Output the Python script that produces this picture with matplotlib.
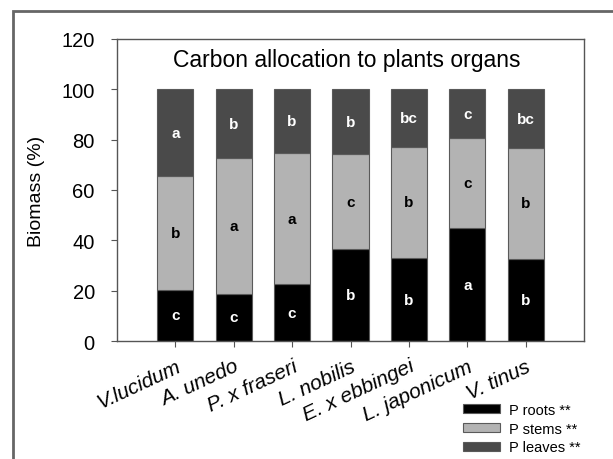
import matplotlib
matplotlib.use("Agg")
import matplotlib.pyplot as plt
from matplotlib.patches import Patch, Rectangle
import numpy as np

plt.rcParams['font.family'] = ['Liberation Sans', 'DejaVu Sans']

species = ["V.lucidum", "A. unedo", "P. x fraseri", "L. nobilis", "E. x ebbingei", "L. japonicum", "V. tinus"]
roots = [20.4, 18.7, 22.6, 36.6, 32.9, 44.8, 32.6]
stems_top = [65.4, 72.6, 74.7, 74.2, 77.2, 80.5, 76.8]
stems = [s - r for s, r in zip(stems_top, roots)]
leaves = [100 - s for s in stems_top]
roots_letters = ["c", "c", "c", "b", "b", "a", "b"]
stems_letters = ["b", "a", "a", "c", "b", "c", "b"]
leaves_letters = ["a", "b", "b", "b", "bc", "c", "bc"]
yticks = [0, 20, 40, 60, 80, 100, 120]
legend_labels = ["P roots **", "P stems **", "P leaves **"]

c_roots, c_stems, c_leaves = "#000000", "#b3b3b3", "#4a4a4a"

fig = plt.figure(figsize=(6.13, 4.6), dpi=100)
ax = fig.add_axes([117/613, 1-342/460, 467/613, 302/460])

x = np.arange(len(species))
w = 0.62
ec = "#5a5a5a"
ax.bar(x, roots, w, color=c_roots, edgecolor=ec, linewidth=0.8)
ax.bar(x, stems, w, bottom=roots, color=c_stems, edgecolor=ec, linewidth=0.8)
ax.bar(x, leaves, w, bottom=stems_top, color=c_leaves, edgecolor=ec, linewidth=0.8)

for i in range(len(species)):
    ax.text(x[i], roots[i]/2, roots_letters[i], ha='center', va='center', color='white', fontweight='bold', fontsize=11)
    ax.text(x[i], roots[i] + stems[i]/2, stems_letters[i], ha='center', va='center', color='black', fontweight='bold', fontsize=11)
    ax.text(x[i], stems_top[i] + leaves[i]/2, leaves_letters[i], ha='center', va='center', color='white', fontweight='bold', fontsize=11)

ax.set_xlim(-1.0, 7.0)
ax.set_ylim(0, 120)
ax.set_yticks(yticks)
ax.set_yticklabels([str(t) for t in yticks], fontsize=14.5)
ax.set_xticks(x)
ax.set_xticklabels(species, rotation=25, ha='right', rotation_mode='anchor', fontsize=15, style='italic')
ax.tick_params(axis='both', direction='out', length=4, color='#555555')
ax.tick_params(axis='x', pad=7)
ax.tick_params(axis='y', pad=12)
for sp in ax.spines.values():
    sp.set_color('#555555')
    sp.set_linewidth(1.0)
ax.set_ylabel("Biomass (%)", fontsize=14, labelpad=12)

ax.text(2.94, 109.3, "Carbon allocation to plants organs", ha='center', va='baseline', fontsize=16.5)

handles = [Patch(facecolor=c, edgecolor=ec, linewidth=0.8) for c in (c_roots, c_stems, c_leaves)]
fig.legend(handles, legend_labels, loc='upper left', bbox_to_anchor=(463/613, 1-404/460),
           frameon=False, fontsize=10.5, handlelength=2.55, handleheight=0.55,
           labelspacing=0.32, handletextpad=0.6, borderpad=0, borderaxespad=0)

fig.patches.append(Rectangle((13/613, -0.1), 1.2, 1-12/460+0.1, transform=fig.transFigure,
                             fill=False, edgecolor='#666666', linewidth=2))

fig.savefig("out.png", dpi=100)
